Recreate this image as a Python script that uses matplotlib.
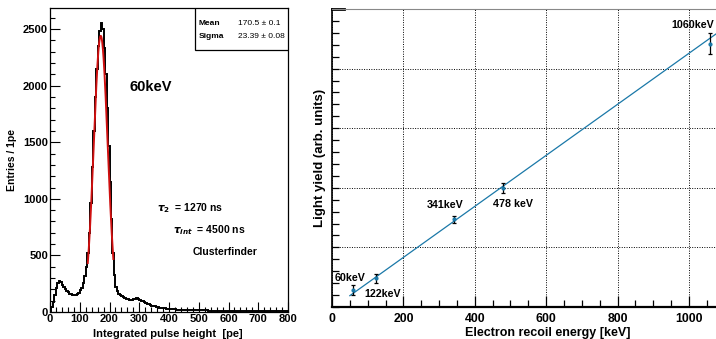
import matplotlib
matplotlib.use("Agg")
import matplotlib.pyplot as plt
import numpy as np
from matplotlib.ticker import MultipleLocator
from matplotlib.patches import Rectangle

plt.rcParams['font.family'] = ['Liberation Sans', 'DejaVu Sans']
plt.rcParams['font.weight'] = 'bold'

# ---------------- data: left panel (60 keV spectrum) ----------------
bin_width = 5
hist_counts = [
    10, 40, 90, 150, 210, 255, 272, 262, 240, 218,
    202, 188, 176, 163, 158, 149, 146, 153, 158, 172,
    190, 216, 255, 322, 400, 520, 700, 960, 1280, 1600,
    1900, 2150, 2350, 2480, 2550, 2500, 2330, 2100, 1800, 1470,
    1150, 820, 520, 330, 222, 182, 160, 152, 140, 132,
    125, 118, 114, 107, 104, 108, 112, 119, 121, 114,
    109, 100, 93, 85, 79, 71, 67, 60, 57, 52,
    49, 45, 43, 39, 38, 35, 33, 31, 30, 28,
    27, 26, 25, 24, 23, 22, 22, 21, 20, 20,
    19, 19, 18, 18, 17, 17, 17, 16, 16, 16,
    15, 15, 15, 14, 14, 14, 13, 13, 13, 13,
    12, 12, 12, 12, 11, 11, 11, 11, 11, 10,
    10, 10, 10, 10, 9, 9, 9, 9, 9, 9,
    8, 8, 8, 8, 8, 8, 7, 7, 7, 7,
    7, 7, 7, 6, 6, 6, 6, 6, 6, 6,
    6, 5, 5, 5, 5, 5, 5, 5, 5, 5,
]
fit_amplitude = 2440
fit_mean = 170.5
fit_sigma = 23.39
fit_xrange = [127, 213]
stats_names = ["Mean", "Sigma"]
stats_values = ["170.5 \u00b1 0.1", "23.39 \u00b1 0.08"]

# ---------------- data: right panel (linearity) ----------------
energies = [60, 122, 341, 478, 1060]
light_yield = [0.285, 0.48, 1.47, 2.0, 4.42]
yield_err = [0.08, 0.08, 0.065, 0.085, 0.18]
point_labels = ["60keV", "122keV", "341keV", "478 keV", "1060keV"]
label_pos_x = [8, 92, 266, 451, 952]
label_pos_y = [0.487, 0.218, 1.71, 1.73, 4.73]
lin_slope = 0.00428
lin_intercept = -0.024
lin_xrange = [50, 1100]

fig = plt.figure(figsize=(7.16, 3.39), dpi=100)

# ---------------- left panel ----------------
ax1 = fig.add_axes([50/716, 1-312/339, 238/716, 304/339])
edges = np.arange(0, bin_width*(len(hist_counts)+1), bin_width)
ax1.stairs(hist_counts, edges, color='black', lw=1.4, zorder=2)
xf = np.linspace(fit_xrange[0], fit_xrange[1], 200)
yf = fit_amplitude*np.exp(-0.5*((xf-fit_mean)/fit_sigma)**2)
ax1.plot(xf, yf, color='#d01010', lw=1.4, zorder=3)
ax1.set_xlim(0, 800)
ax1.set_ylim(0, 2686)
ax1.xaxis.set_major_locator(MultipleLocator(100))
ax1.xaxis.set_minor_locator(MultipleLocator(20))
ax1.yaxis.set_major_locator(MultipleLocator(500))
ax1.yaxis.set_minor_locator(MultipleLocator(100))
ax1.tick_params(which='both', direction='in', labelsize=8, width=0.8, pad=1.5)
ax1.tick_params(which='major', length=7)
ax1.tick_params(which='minor', length=3.5)
for lab in ax1.get_xticklabels() + ax1.get_yticklabels():
    lab.set_fontweight('bold')
for s in ax1.spines.values():
    s.set_linewidth(0.9)
ax1.set_xlabel("Integrated pulse height  [pe]", fontsize=8, fontweight='bold')
ax1.xaxis.set_label_coords(0.497, -0.055, transform=ax1.transAxes)
ax1.xaxis.label.set_va('top')
ax1.set_ylabel("Entries / 1pe", fontsize=7.5, fontweight='bold', labelpad=4)

# stats box
ax1.add_patch(Rectangle((0.609, 0.862), 0.391, 0.138, transform=ax1.transAxes,
                        fill=True, facecolor='white', edgecolor='black', lw=0.9, zorder=5))
for i, (n, v) in enumerate(zip(stats_names, stats_values)):
    yy = 0.948 - i*0.042
    ax1.text(0.626, yy, n, transform=ax1.transAxes, fontsize=6, fontweight='bold',
             va='center', ha='left', zorder=6)
    ax1.text(0.790, yy, v, transform=ax1.transAxes, fontsize=6, fontweight='normal',
             va='center', ha='left', zorder=6)

def px2data(px, py):
    return (px-50)/238*800, (312-py)*2500/283

ax1.text(*px2data(130, 86.7), "60keV", fontsize=10.5, fontweight='bold', va='center', ha='left')
ax1.text(*px2data(157, 208), r"$\tau_{2}$" + "  = 1270 ns", fontsize=7.5,
         fontweight='bold', va='center', ha='left')
ax1.text(*px2data(173, 230), r"$\tau_{int}$" + "  = 4500 ns", fontsize=7.5,
         fontweight='bold', va='center', ha='left')
ax1.text(*px2data(193, 252), "Clusterfinder", fontsize=7.5, fontweight='bold',
         va='center', ha='left')

# ---------------- right panel ----------------
ax2 = fig.add_axes([332/716, 1-307/339, 384/716, 298/339])
xl = np.array(lin_xrange, dtype=float)
ax2.plot(xl, lin_intercept + lin_slope*xl, color='#1a78a8', lw=0.9, zorder=3)
ax2.errorbar(energies, light_yield, yerr=yield_err, fmt='o', ms=2, color='#1a78a8',
             ecolor='black', elinewidth=0.9, capsize=1.5, capthick=0.9, zorder=4)
for t, lx, ly in zip(point_labels, label_pos_x, label_pos_y):
    ax2.text(lx, ly, t, fontsize=7.7, fontweight='bold', va='center', ha='left')
ax2.set_xlim(0, 1076)
ax2.set_ylim(0, 5)
ax2.xaxis.set_major_locator(MultipleLocator(200))
ax2.xaxis.set_minor_locator(MultipleLocator(50))
ax2.yaxis.set_major_locator(MultipleLocator(1))
ax2.yaxis.set_minor_locator(MultipleLocator(0.2))
ax2.tick_params(which='both', direction='in', labelsize=8.8, width=0.9, pad=4.5)
ax2.tick_params(axis='y', which='both', labelleft=False, length=5)
ax2.tick_params(axis='x', which='major', length=8)
ax2.tick_params(axis='x', which='minor', length=5)
for lab in ax2.get_xticklabels():
    lab.set_fontweight('bold')
ax2.grid(True, which='major', color='black', lw=0.7, linestyle=(0, (1, 1.5)))
ax2.spines['right'].set_visible(False)
ax2.spines['top'].set_color('#888888')
ax2.spines['top'].set_linewidth(0.8)
ax2.spines['left'].set_linewidth(1.2)
ax2.spines['bottom'].set_linewidth(1.6)
ax2.plot([0, 0.03], [1, 1], transform=ax2.transAxes, color='black', lw=2, clip_on=False)
ax2.set_xlabel("Electron recoil energy [keV]", fontsize=9, fontweight='bold')
ax2.xaxis.set_label_coords(0.5625, -0.068, transform=ax2.transAxes)
ax2.xaxis.label.set_va('top')
ax2.set_ylabel("Light yield (arb. units)", fontsize=9.5, fontweight='bold', labelpad=4)

fig.savefig("out.png", dpi=100)
